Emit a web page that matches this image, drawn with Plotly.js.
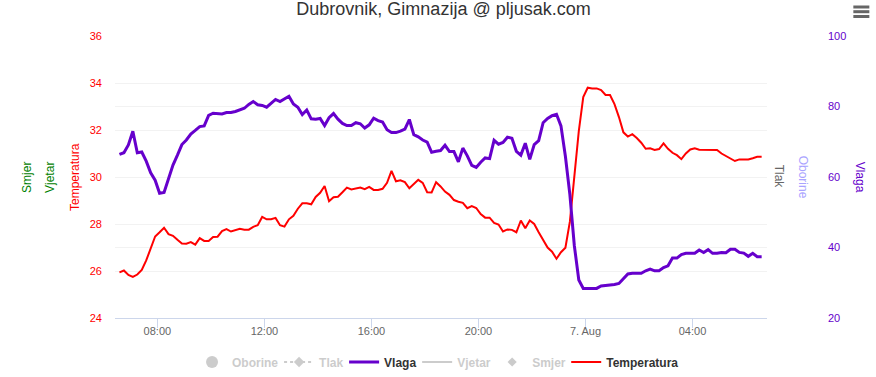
<!DOCTYPE html>
<html>
<head>
<meta charset="utf-8">
<script src="https://cdn.plot.ly/plotly-3.0.1.min.js"></script>
<style>html,body{margin:0;padding:0;background:#fff;}#chart{width:876px;height:377px;}</style>
</head>
<body>
<div id="chart"></div>
<script>
// ---- data (10-minute readings, 6 Aug 06:35 -> 7 Aug 06:35) ----
const startTime = '2023-08-06T06:35:00Z';
const stepMinutes = 10;

const temperatura = [25.94,26.02,25.83,25.75,25.85,26.05,26.45,26.95,27.47,27.65,
27.84,27.57,27.50,27.33,27.17,27.16,27.23,27.12,27.40,27.28,
27.28,27.45,27.46,27.70,27.78,27.68,27.75,27.80,27.76,27.76,
27.88,27.95,28.30,28.20,28.20,28.26,27.95,27.89,28.20,28.35,
28.65,28.88,28.88,28.84,29.15,29.33,29.62,28.97,29.14,29.16,
29.35,29.55,29.47,29.50,29.55,29.48,29.58,29.45,29.45,29.50,
29.75,30.26,29.82,29.86,29.78,29.52,29.70,29.88,29.75,29.35,
29.34,29.78,29.60,29.38,29.24,29.02,28.95,28.90,28.67,28.76,
28.68,28.42,28.27,28.27,28.05,27.98,27.68,27.77,27.75,27.65,
28.15,27.82,28.15,28.00,27.65,27.30,27.00,26.82,26.52,26.80,
26.99,28.10,29.95,31.95,33.40,33.80,33.77,33.77,33.70,33.49,
33.49,33.10,32.55,31.90,31.72,31.82,31.66,31.46,31.20,31.22,
31.15,31.19,31.43,31.20,31.03,30.93,30.76,31.00,31.17,31.22,
31.16,31.15,31.15,31.15,31.15,31.00,30.90,30.80,30.68,30.75,
30.75,30.75,30.80,30.86,30.86];

const vlaga = [66.4,66.9,69.1,73.0,66.9,67.1,64.5,61.2,59.1,55.4,
55.6,59.6,63.4,66.2,69.2,70.5,72.2,73.2,74.3,74.5,
77.5,78.1,78.1,77.9,78.3,78.3,78.6,79.0,79.5,80.6,
81.4,80.5,80.3,79.8,80.9,82.0,81.4,82.2,82.9,80.7,
79.8,77.7,79.0,76.5,76.4,76.6,74.6,76.8,78.0,76.4,
75.2,74.6,74.6,75.4,75.1,73.9,74.8,76.7,76.0,75.6,
73.4,72.6,72.6,73.0,73.6,76.3,72.0,71.4,70.5,69.9,
67.0,67.3,67.5,69.0,67.2,67.2,64.3,68.2,66.0,63.3,
62.7,64.2,65.4,65.2,70.4,69.3,69.8,71.3,71.0,67.3,
66.2,69.6,65.0,69.2,70.3,75.4,76.6,77.4,77.8,74.5,
65.8,55.0,40.5,30.8,28.4,28.4,28.4,28.4,29.1,29.2,
29.3,29.5,29.8,31.2,32.5,32.7,32.6,32.7,33.4,33.9,
33.4,33.4,34.3,34.8,37.0,37.0,38.0,38.35,38.35,38.35,
39.3,38.6,39.4,38.35,38.35,38.6,38.5,39.5,39.5,38.6,
38.4,37.5,38.35,37.4,37.4];

const xTickVals = ['2023-08-06 08:00','2023-08-06 12:00','2023-08-06 16:00','2023-08-06 20:00','2023-08-07 00:00','2023-08-07 04:00'];
const xTickText = ['08:00','12:00','16:00','20:00','7. Aug','04:00'];
const xRange = ['2023-08-06 06:25','2023-08-07 06:47'];
const tempTicks = [24,26,28,30,32,34,36];
const vlagaTicks = [20,40,60,80,100];

// ---- build times ----
const t0 = Date.parse(startTime);
const times = temperatura.map((_, i) => new Date(t0 + i * stepMinutes * 60000).toISOString().slice(0,16).replace('T',' '));

const FONT = 'Liberation Sans, Arial, Helvetica, sans-serif';
const PURPLE = '#6600cc';
const L = 115, R = 766.7, T = 36, B = 318;
const px = x => (x - L) / (R - L);
const py = y => (B - y) / (B - T);

const traces = [
  {name:'Oborine', x:[null], y:[null], type:'scatter', mode:'markers', visible:'legendonly', legend:'legend',
   marker:{symbol:'circle', size:12, color:'#999'}},
  {name:'Tlak', x:[null], y:[null], type:'scatter', mode:'lines+markers', visible:'legendonly', legend:'legend2',
   line:{color:'#999', width:2, dash:'dot'}, marker:{symbol:'diamond', size:8, color:'#999'}},
  {name:'Vlaga', x:times, y:vlaga, type:'scatter', mode:'lines', yaxis:'y2', legend:'legend3',
   line:{color:PURPLE, width:3}, hoverinfo:'skip'},
  {name:'Vjetar', x:[null], y:[null], type:'scatter', mode:'lines', visible:'legendonly', legend:'legend4',
   line:{color:'#999', width:2}},
  {name:'Smjer', x:[null], y:[null], type:'scatter', mode:'markers', visible:'legendonly', legend:'legend5',
   marker:{symbol:'diamond', size:7, color:'#999'}},
  {name:'Temperatura', x:times, y:temperatura, type:'scatter', mode:'lines', legend:'legend6',
   line:{color:'#ff0000', width:2}, hoverinfo:'skip'}
];

function lg(xpix, color){
  return {orientation:'h', x:px(xpix), xanchor:'left', y:py(362), yanchor:'middle',
          bgcolor:'rgba(0,0,0,0)', borderwidth:0, itemwidth:30,
          font:{family:FONT, size:12, color:color, weight:'bold'}};
}

const axTitle = (text, xpix, color, angle) => ({
  text:text, xref:'paper', yref:'paper', x:px(xpix), y:0.5, xanchor:'center', yanchor:'middle',
  textangle:angle, showarrow:false, font:{family:FONT, size:12, color:color}
});

const menuLine = y => ({type:'line', xref:'paper', yref:'paper', x0:px(853), x1:px(869), y0:py(y), y1:py(y),
  line:{color:'#666', width:3}});

const layout = {
  width:876, height:377,
  margin:{l:L, r:876-R, t:T, b:377-B, autoexpand:false},
  paper_bgcolor:'#fff', plot_bgcolor:'#fff',
  font:{family:FONT, size:11, color:'#666'},
  title:{text:'Dubrovnik, Gimnazija @ pljusak.com', xref:'container', x:0.5063, xanchor:'center',
         yref:'container', y:1-9/377, yanchor:'middle', font:{family:FONT, size:18, color:'#333'}},
  xaxis:{type:'date', range:xRange, tickvals:xTickVals, ticktext:xTickText, showgrid:false, zeroline:false,
         showline:true, linecolor:'#ccd6eb', linewidth:1, ticks:'outside', ticklen:9, tickcolor:'#ccd6eb',
         ticklabelstandoff:-6, tickfont:{family:FONT, size:11, color:'#666'}},
  yaxis:{range:[24,36], tickvals:tempTicks, showgrid:true, gridcolor:'#f2f2f2', zeroline:false, showline:false,
         ticks:'', ticklabelstandoff:12, tickfont:{family:FONT, size:11, color:'#ff0000'}},
  yaxis2:{range:[20,100], tickvals:vlagaTicks, overlaying:'y', side:'right', anchor:'x', showgrid:true, gridcolor:'#f2f2f2',
          zeroline:false, showline:false, ticks:'', ticklabelstandoff:60, tickfont:{family:FONT, size:11, color:PURPLE}},
  legend: lg(192, '#999'),
  legend2: lg(279, '#999'),
  legend3: lg(344, '#333'),
  legend4: lg(417, '#999'),
  legend5: lg(492, '#999'),
  legend6: lg(566, '#333'),
  annotations:[
    axTitle('Smjer', 27, '#008000', -90),
    axTitle('Vjetar', 50, '#008000', -90),
    axTitle('Temperatura', 75, '#ff0000', -90),
    axTitle('Tlak', 779, '#666', 90),
    axTitle('Oborine', 803, '#a9a3ff', 90),
    axTitle('Vlaga', 860, PURPLE, 90)
  ],
  shapes:[menuLine(7), menuLine(11.7), menuLine(16.5)],
  showlegend:true
};

Plotly.newPlot('chart', traces, layout, {displayModeBar:false, staticPlot:true});
</script>
</body>
</html>
